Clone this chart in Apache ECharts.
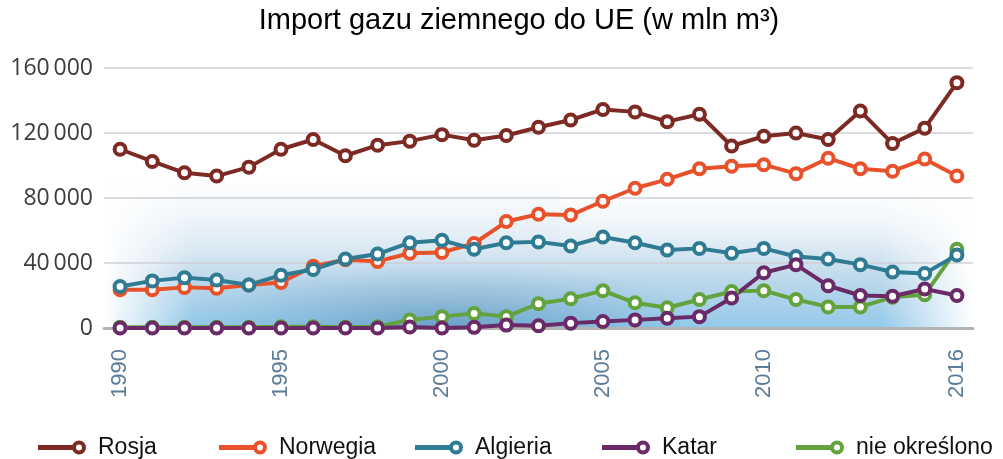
<!DOCTYPE html>
<html>
<head>
<meta charset="utf-8">
<script src="https://cdn.jsdelivr.net/npm/echarts@6/dist/echarts.min.js"></script>
<style>
  html, body { margin: 0; padding: 0; background: #fff; }
  #main { width: 1003px; height: 459px; }
</style>
</head>
<body>
<div id="main"></div>
<script>
// lata
const years = ['1990', '1991', '1992', '1993', '1994', '1995', '1996', '1997', '1998', '1999',
  '2000', '2001', '2002', '2003', '2004', '2005', '2006', '2007', '2008', '2009',
  '2010', '2011', '2012', '2013', '2014', '2015', '2016'];

// import w mln m3
const rosja = [110000, 102500, 95500, 93500, 99000, 110000, 116000, 106000, 112500, 115000,
  119000, 115500, 118500, 123500, 128000, 134500, 133000, 127000, 131500, 112000,
  118000, 120000, 116000, 133500, 113500, 123000, 151000];
const norwegia = [23500, 23500, 25000, 24500, 26500, 28000, 38000, 42000, 41000, 46000,
  46500, 52000, 65500, 70000, 69500, 78000, 86000, 91500, 98000, 99500,
  100500, 95000, 104500, 98000, 96500, 104000, 93500];
const algieria = [25500, 29000, 31000, 29500, 26500, 32500, 36000, 42500, 45500, 52500,
  54000, 48500, 52500, 53000, 50500, 56000, 52500, 48000, 49000, 46000,
  49000, 44000, 42500, 39000, 34500, 33500, 45000];
const katar = [0, 0, 0, 0, 0, 0, 0, 0, 0, 600,
  0, 400, 1800, 1400, 3000, 4000, 5000, 6000, 7000, 18500,
  34000, 39000, 26000, 20000, 19500, 24000, 20000];
const nieOkreslono = [500, 500, 500, 500, 500, 800, 800, 500, 800, 5000,
  7000, 9000, 7000, 15000, 18000, 23000, 15500, 12500, 17500, 22500,
  23000, 17500, 13000, 13000, 19000, 20500, 48500];

const yTicks = [0, 40000, 80000, 120000, 160000];
const shownYears = ['1990', '1995', '2000', '2005', '2010', '2016'];

const names = ['Rosja', 'Norwegia', 'Algieria', 'Katar', 'nie określono'];
const colors = ['#7d2a24', '#e8522b', '#2f7b93', '#6a2a67', '#63a33d'];
const values = [rosja, norwegia, algieria, katar, nieOkreslono];

// kolejnosc rysowania (zielona pod algieria i katarem)
const drawOrder = [0, 1, 4, 2, 3];

// ikonka legendy: kreska + kolko
const legendIcon = 'path://M0,4.6 L35,4.6 L35,9.4 L0,9.4 Z ' +
  'M48,7 A7,7 0 1,1 34,7 A7,7 0 1,1 48,7 Z ' +
  'M44,7 A3,3 0 1,0 38,7 A3,3 0 1,0 44,7 Z';
const legendLeft = [38, 219, 415, 602, 796];

const fmt = v => String(v).replace(/\B(?=(\d{3})+(?!\d))/g, '\u2009');

const RG = echarts.graphic.RadialGradient;
const LG = echarts.graphic.LinearGradient;

var myChart = echarts.init(document.getElementById('main'));

// niebieska "chmura" w tle wykresu
const cloud = [
  {
    type: 'rect', z: -10, silent: true,
    shape: { x: 104, y: 175, width: 869, height: 154 },
    style: {
      fill: new LG(0, 0, 0, 1, [
        { offset: 0, color: 'rgba(225,236,244,0)' },
        { offset: 0.35, color: 'rgba(208,226,238,0.5)' },
        { offset: 0.7, color: 'rgba(168,205,229,0.8)' },
        { offset: 1, color: 'rgba(138,198,234,0.95)' }
      ])
    }
  },
  {
    type: 'rect', z: -9, silent: true,
    x: 160, y: 260, scaleX: 4,
    shape: { x: 0, y: 0, width: 130, height: 69 },
    style: {
      fill: new RG(0.55, 1, 1, [
        { offset: 0, color: 'rgba(70,125,165,0.55)' },
        { offset: 0.6, color: 'rgba(90,145,185,0.22)' },
        { offset: 1, color: 'rgba(110,160,200,0)' }
      ])
    }
  },
  {
    type: 'rect', z: -8, silent: true,
    shape: { x: 104, y: 150, width: 90, height: 179 },
    style: {
      fill: new LG(0, 0, 1, 0, [
        { offset: 0, color: 'rgba(255,255,255,1)' },
        { offset: 1, color: 'rgba(255,255,255,0)' }
      ])
    }
  },
  {
    type: 'rect', z: -8, silent: true,
    shape: { x: 880, y: 150, width: 93, height: 179 },
    style: {
      fill: new LG(0, 0, 1, 0, [
        { offset: 0, color: 'rgba(255,255,255,0)' },
        { offset: 1, color: 'rgba(255,255,255,1)' }
      ])
    }
  },
  {
    type: 'rect', z: -8, silent: true,
    shape: { x: 560, y: 150, width: 413, height: 100 },
    style: {
      fill: new LG(0, 0, 0, 1, [
        { offset: 0, color: 'rgba(255,255,255,0.9)' },
        { offset: 1, color: 'rgba(255,255,255,0)' }
      ])
    }
  }
];

const option = {
  animation: false,
  backgroundColor: '#fff',
  title: {
    text: 'Import gazu ziemnego do UE (w mln m³)',
    left: 519,
    top: 6,
    padding: 0,
    textAlign: 'center',
    textStyle: { fontFamily: 'Liberation Sans', fontSize: 29, fontWeight: 'normal', color: '#000' }
  },
  graphic: cloud,
  legend: names.map((n, i) => ({
    data: [{ name: n, icon: legendIcon, itemStyle: { color: colors[i], borderWidth: 0 } }],
    left: legendLeft[i],
    top: 436,
    padding: 0,
    itemWidth: 48,
    itemHeight: 14,
    selectedMode: false,
    textStyle: { fontFamily: 'Liberation Sans', fontSize: 23, color: '#111', padding: [0, 0, 0, 7] }
  })),
  grid: { left: 104, right: 30, top: 68, bottom: 131 },
  xAxis: {
    type: 'category',
    data: years,
    boundaryGap: true,
    axisLine: { lineStyle: { color: '#b4b4b4', width: 3 } },
    axisTick: { interval: 0, length: 9, lineStyle: { color: '#b4b4b4', width: 2 } },
    axisLabel: {
      interval: (idx, val) => shownYears.indexOf(val) !== -1,
      rotate: 90,
      margin: 21,
      color: '#5d7b9a',
      fontFamily: 'Liberation Sans',
      fontSize: 22
    },
    splitLine: { show: false }
  },
  yAxis: {
    type: 'value',
    min: yTicks[0],
    max: yTicks[yTicks.length - 1],
    interval: yTicks[1] - yTicks[0],
    axisLine: { show: false },
    axisTick: { show: false },
    axisLabel: {
      margin: 11,
      color: '#3c3c3c',
      fontFamily: 'Open Sans',
      fontSize: 23,
      formatter: fmt
    },
    splitLine: { lineStyle: { color: '#cfcfd6', width: 1.5 } }
  },
  series: drawOrder.map(i => ({
    name: names[i],
    type: 'line',
    data: values[i],
    color: colors[i],
    symbol: 'circle',
    symbolSize: 11,
    itemStyle: { color: '#fff', borderColor: colors[i], borderWidth: 4 },
    lineStyle: { color: colors[i], width: 4 }
  }))
};

myChart.setOption(option);
</script>
</body>
</html>
